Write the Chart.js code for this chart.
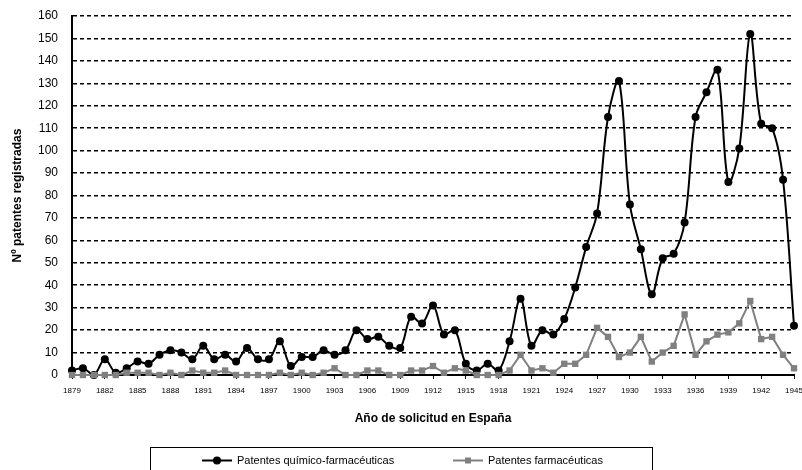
<!DOCTYPE html>
<html><head><meta charset="utf-8">
<script src="https://cdn.jsdelivr.net/npm/chart.js@4"></script>
<style>html,body{margin:0;padding:0;background:#fff}canvas{display:block}</style>
</head><body>
<canvas id="c" width="802" height="470"></canvas>
<script>
const years = ['1879','1880','1881','1882','1883','1884','1885','1886','1887','1888',
  '1889','1890','1891','1892','1893','1894','1895','1896','1897','1898',
  '1899','1900','1901','1902','1903','1904','1905','1906','1907','1908',
  '1909','1910','1911','1912','1913','1914','1915','1916','1917','1918',
  '1919','1920','1921','1922','1923','1924','1925','1926','1927','1928',
  '1929','1930','1931','1932','1933','1934','1935','1936','1937','1938',
  '1939','1940','1941','1942','1943','1944','1945'];
const quimicoFarma = [2,3,0,7,1,3,6,5,9,11,
  10,7,13,7,9,6,12,7,7,15,
  4,8,8,11,9,11,20,16,17,13,
  12,26,23,31,18,20,5,2,5,2,
  15,34,13,20,18,25,39,57,72,115,
  131,76,56,36,52,54,68,115,126,136,
  86,101,152,112,110,87,22];
const farma = [0,0,0,0,0,1,1,1,0,1,
  0,2,1,1,2,0,0,0,0,1,
  0,1,0,1,3,0,0,2,2,0,
  0,2,2,4,1,3,2,0,0,0,
  2,9,2,3,1,5,5,9,21,17,
  8,10,17,6,10,13,27,9,15,18,
  19,23,33,16,17,9,3];
const yTicks = [0,10,20,30,40,50,60,70,80,90,100,110,120,130,140,150,160];
const labelStep = 3;
const seriesNames = ['Patentes químico-farmacéuticas', 'Patentes farmacéuticas'];

const FONT = "'Liberation Sans', Arial, Helvetica, sans-serif";

const boxLegend = {
  id: 'boxLegend',
  afterDraw(chart) {
    const ctx = chart.ctx;
    ctx.save();
    ctx.strokeStyle = '#000';
    ctx.lineWidth = 1;
    ctx.strokeRect(150.5, 447.5, 502, 40);
    const xs = [202, 453];
    const y = 460.5;
    chart.data.datasets.forEach((ds, i) => {
      const x0 = xs[i];
      ctx.strokeStyle = ds.borderColor;
      ctx.lineWidth = 2;
      ctx.beginPath(); ctx.moveTo(x0, y); ctx.lineTo(x0 + 30, y); ctx.stroke();
      ctx.fillStyle = ds.pointBackgroundColor;
      if (ds.pointStyle === 'rect') {
        ctx.fillRect(x0 + 15 - 3, y - 3, 6, 6);
      } else {
        ctx.beginPath(); ctx.arc(x0 + 15, y, 4, 0, Math.PI * 2); ctx.fill();
      }
      ctx.fillStyle = '#000';
      ctx.font = '11px ' + FONT;
      ctx.textAlign = 'left';
      ctx.textBaseline = 'middle';
      ctx.fillText(ds.label, x0 + 35, y);
    });
    ctx.restore();
  }
};

new Chart(document.getElementById('c'), {
  type: 'line',
  data: {
    labels: years,
    datasets: [
      {
        label: seriesNames[0],
        data: quimicoFarma,
        borderColor: '#000000',
        backgroundColor: '#000000',
        pointBackgroundColor: '#000000',
        pointBorderColor: '#000000',
        pointStyle: 'circle',
        pointRadius: 4,
        pointBorderWidth: 0,
        borderWidth: 2,
        tension: 0.35,
        order: 2,
        clip: false
      },
      {
        label: seriesNames[1],
        data: farma,
        borderColor: '#808080',
        backgroundColor: '#808080',
        pointBackgroundColor: '#808080',
        pointBorderColor: '#808080',
        pointStyle: 'rect',
        pointRadius: 4.5,
        pointBorderWidth: 0,
        borderWidth: 2,
        tension: 0,
        order: 1,
        clip: false
      }
    ]
  },
  options: {
    responsive: false,
    animation: false,
    devicePixelRatio: 1,
    layout: { padding: { left: 0, right: 8, top: 16, bottom: 44 } },
    plugins: { legend: { display: false }, tooltip: { enabled: false } },
    scales: {
      x: {
        type: 'category',
        offset: false,
        afterFit(s) { s.height = 51; s.paddingLeft = 0; s.paddingRight = 0; },
        afterBuildTicks(s) { s.ticks = s.ticks.filter(t => t.value % labelStep === 0); },
        ticks: {
          autoSkip: false, maxRotation: 0, minRotation: 0,
          padding: 7,
          color: '#000',
          font: { family: FONT, size: 8 },
          callback(v) { return years[v]; }
        },
        grid: { drawOnChartArea: false, drawTicks: true, tickLength: 4, color: '#000', lineWidth: 1 },
        border: { display: true, color: '#000', width: 2 },
        title: {
          display: true, text: 'Año de solicitud en España', color: '#000',
          font: { family: FONT, size: 12, weight: 'bold' },
          padding: { top: 0, bottom: 0 }
        }
      },
      y: {
        min: 0, max: 160,
        afterFit(s) { s.width = 72; s.paddingTop = 0; s.paddingBottom = 0; },
        afterBuildTicks(s) { s.ticks = yTicks.map(v => ({ value: v })); },
        ticks: {
          padding: 14, color: '#000',
          font: { family: FONT, size: 12 }
        },
        grid: { drawTicks: false, color: '#000', lineWidth: 1.6 },
        border: { display: true, color: '#000', width: 2, dash: [4, 3] },
        title: {
          display: true, text: 'Nº patentes registradas', color: '#000',
          font: { family: FONT, size: 12, weight: 'bold' },
          padding: { top: 10, bottom: 0 }
        }
      }
    }
  },
  plugins: [boxLegend]
});
</script>
</body></html>
